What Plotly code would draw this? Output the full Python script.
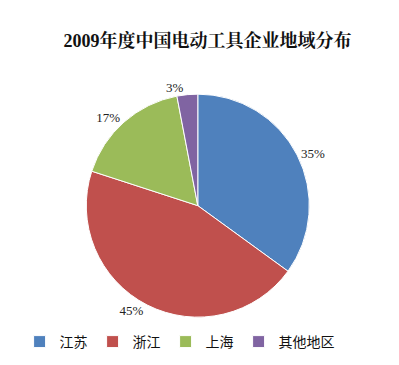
import plotly.graph_objects as go

labels = ["江苏", "浙江", "上海", "其他地区"]
values = [35, 45, 17, 3]
colors = ["#4F81BD", "#C0504D", "#9BBB59", "#8064A2"]

fig = go.Figure(go.Pie(
    labels=labels, values=values, sort=False, direction="clockwise", rotation=0,
    marker=dict(colors=colors, line=dict(color="white", width=1)),
    textposition="outside", texttemplate="%{value}%",
    textfont=dict(family="Liberation Serif", size=13, color="#222"),
    domain=dict(x=[0.058, 0.838], y=[0.153, 0.764]),
    hoverinfo="skip",
))
fig.update_layout(
    width=399, height=365, margin=dict(l=0, r=0, t=0, b=0),
    paper_bgcolor="white", plot_bgcolor="white",
    title=dict(text="<b>2009年度中国电动工具企业地域分布</b>", x=0.5, xanchor="center",
               y=1 - 33/365, yanchor="middle",
               font=dict(family="Liberation Serif, Noto Serif CJK SC, Noto Sans CJK SC", size=18, color="#111")),
    legend=dict(orientation="h", x=0.40, xanchor="center", y=1 - 334/365, yanchor="middle",
                font=dict(family="Noto Sans CJK SC", size=14, color="#111"),
                itemwidth=30, traceorder="normal"),
    showlegend=True,
)
fig.write_html("out.html")
